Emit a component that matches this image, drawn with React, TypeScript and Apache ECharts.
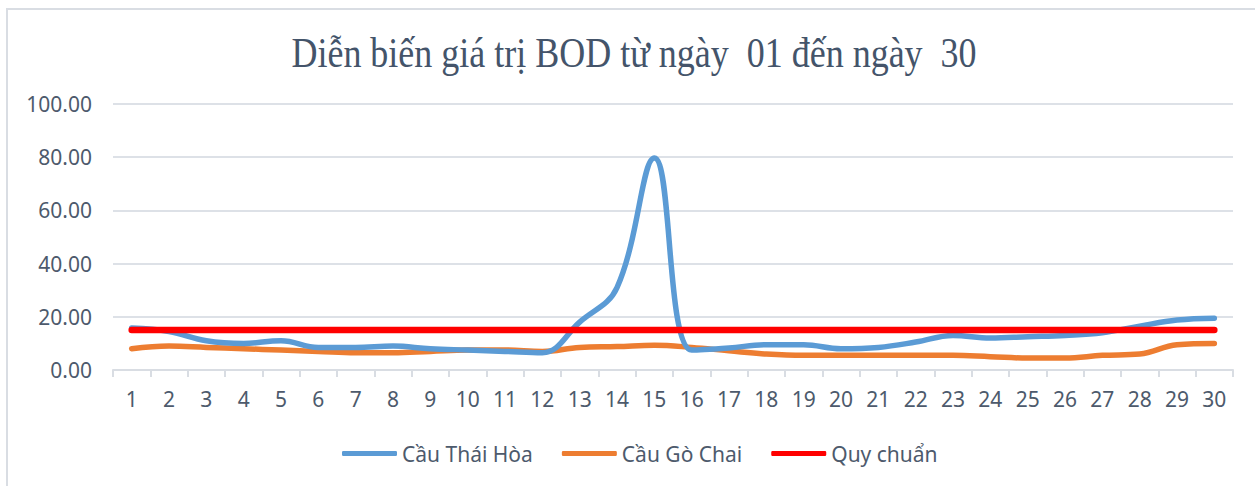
import React, { useEffect, useRef } from "react";
import * as echarts from "echarts";

const days = ["1","2","3","4","5","6","7","8","9","10","11","12","13","14","15","16","17","18","19","20","21","22","23","24","25","26","27","28","29","30"];
const thaiHoa = [15.8, 14.5, 11, 10, 11, 8.5, 8.5, 9, 8, 7.5, 7, 6.5, 18, 31, 79.7, 7.5, 8.3, 9.5, 9.5, 8, 8.5, 10.5, 13, 12, 12.5, 13, 14, 16.5, 18.8, 19.5];
const goChai = [8, 9, 8.5, 8, 7.5, 7, 6.5, 6.5, 7, 7.5, 7.5, 7, 8.5, 8.8, 9.3, 8.5, 7.2, 6, 5.5, 5.5, 5.5, 5.5, 5.5, 5, 4.5, 4.5, 5.5, 6, 9.5, 10];
const quyChuan = [15, 15, 15, 15, 15, 15, 15, 15, 15, 15, 15, 15, 15, 15, 15, 15, 15, 15, 15, 15, 15, 15, 15, 15, 15, 15, 15, 15, 15, 15];
const seriesNames = ["Cầu Thái Hòa", "Cầu Gò Chai", "Quy chuẩn"];
const titleText = "Diễn biến giá trị BOD từ ngày  01 đến ngày  30";

export default function App() {
  const ref = useRef<HTMLDivElement>(null);
  useEffect(() => {
    if (!ref.current) return;
    const chart = echarts.init(ref.current, null, { renderer: "svg" });
    const labelColor = "#4d5a6c";
    chart.setOption({
      animation: false,
      backgroundColor: "#ffffff",
      graphic: [
        {
          type: "rect",
          shape: { x: 7, y: 9, width: 1260, height: 490 },
          style: { fill: "none", stroke: "#d9dde3", lineWidth: 2 },
          silent: true,
          z: -1,
        },
        {
          type: "text",
          x: 634,
          y: 53,
          scaleY: 1.2,
          style: {
            text: titleText,
            fontFamily: "Liberation Serif",
            fontSize: 36,
            fill: "#44546a",
            textAlign: "center",
            textVerticalAlign: "middle",
          },
          silent: true,
        },
      ],
      legend: {
        top: 443,
        left: 342,
        padding: 0,
        itemWidth: 55,
        itemHeight: 5,
        itemGap: 29,
        icon: "roundRect",
        textStyle: { fontFamily: "Noto Sans", fontSize: 21, color: labelColor },
        data: seriesNames,
      },
      grid: { left: 113, right: 22, top: 104, bottom: 116, containLabel: false },
      xAxis: {
        type: "category",
        data: days,
        boundaryGap: true,
        axisLine: { lineStyle: { color: "#d9dde3", width: 2 } },
        axisTick: { show: true, length: 7, lineStyle: { color: "#d9dde3", width: 2 } },
        axisLabel: { fontFamily: "Noto Sans", fontSize: 21, color: labelColor, margin: 18 },
      },
      yAxis: {
        type: "value",
        min: 0,
        max: 100,
        interval: 20,
        axisLine: { show: false },
        axisTick: { show: false },
        splitLine: { lineStyle: { color: "#dde1e7", width: 2 } },
        axisLabel: {
          fontFamily: "Noto Sans",
          fontSize: 21,
          color: labelColor,
          margin: 21,
          formatter: (v: number) => v.toFixed(2),
        },
      },
      series: [
        {
          name: seriesNames[0],
          type: "line",
          data: thaiHoa,
          smooth: 0.4,
          symbol: "none",
          lineStyle: { color: "#5b9bd5", width: 5.5, cap: "round" },
          itemStyle: { color: "#5b9bd5" },
          z: 3,
        },
        {
          name: seriesNames[1],
          type: "line",
          data: goChai,
          smooth: 0.4,
          symbol: "none",
          lineStyle: { color: "#ed7d31", width: 5.5, cap: "round" },
          itemStyle: { color: "#ed7d31" },
          z: 2,
        },
        {
          name: seriesNames[2],
          type: "line",
          data: quyChuan,
          symbol: "none",
          lineStyle: { color: "#ff0000", width: 6.5, cap: "round" },
          itemStyle: { color: "#ff0000" },
          z: 4,
        },
      ],
    });
    return () => chart.dispose();
  }, []);
  return (
    <div
      ref={ref}
      style={{ position: "fixed", left: 0, top: 0, width: 1255, height: 486, background: "#fff" }}
    />
  );
}
